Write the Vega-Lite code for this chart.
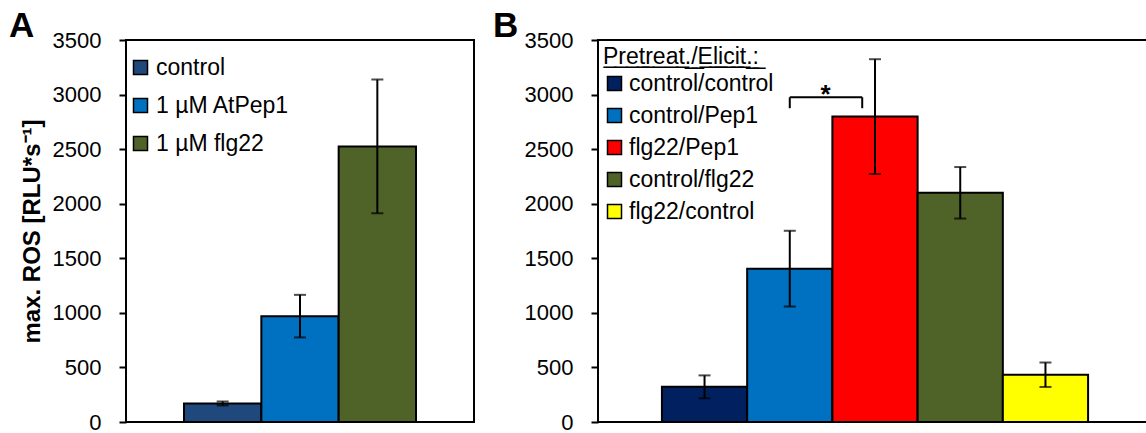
{
  "$schema": "https://vega.github.io/schema/vega-lite/v6.json",
  "padding": {"left": 8, "top": 8, "right": 0, "bottom": 0},
  "background": "white",
  "config": {
    "font": "Liberation Sans",
    "view": {"stroke": "black", "strokeWidth": 2},
    "axis": {
      "labelFont": "Liberation Sans",
      "labelFontSize": 22,
      "labelColor": "black",
      "tickColor": "black",
      "tickWidth": 2,
      "tickSize": 7,
      "labelPadding": 18,
      "domain": false,
      "grid": false,
      "format": "d",
      "titleFont": "Liberation Sans",
      "titleColor": "black",
      "titleFontSize": 24,
      "titleFontWeight": "bold",
      "titlePadding": 8
    },
    "legend": {
      "labelFont": "Liberation Sans",
      "labelFontSize": 23,
      "labelColor": "black",
      "symbolType": "square",
      "symbolSize": 196,
      "symbolStrokeColor": "black",
      "symbolStrokeWidth": 1.5,
      "symbolOpacity": 1,
      "padding": 0
    },
    "title": {"font": "Liberation Sans", "color": "black", "fontSize": 35, "fontWeight": "bold", "anchor": "start", "frame": "group", "dy": 19}
  },
  "bounds": "flush",
  "spacing": 124,
  "resolve": {
    "scale": {"x": "independent", "y": "independent", "color": "independent"},
    "legend": {"color": "independent"}
  },
  "hconcat": [
    {
      "width": 348,
      "height": 382,
      "title": {"text": "A", "dx": -117},
      "data": {
        "values": [
          {"treatment": "control", "ros": 170, "err": 18},
          {"treatment": "1 µM AtPep1", "ros": 970, "err": 195},
          {"treatment": "1 µM flg22", "ros": 2525, "err": 612}
        ]
      },
      "encoding": {
        "x": {
          "field": "treatment",
          "type": "nominal",
          "axis": null,
          "scale": {"domain": ["control", "1 µM AtPep1", "1 µM flg22"], "paddingInner": 0, "paddingOuter": 0.75}
        },
        "y": {
          "field": "ros",
          "type": "quantitative",
          "scale": {"domain": [0, 3500], "nice": false},
          "axis": {"title": "max. ROS [RLU*s⁻¹]", "values": [0, 500, 1000, 1500, 2000, 2500, 3000, 3500]}
        }
      },
      "layer": [
        {
          "mark": {"type": "bar", "stroke": "black", "strokeWidth": 2},
          "encoding": {
            "color": {
              "field": "treatment",
              "type": "nominal",
              "scale": {"domain": ["control", "1 µM AtPep1", "1 µM flg22"], "range": ["#1F497D", "#0070C0", "#4F6228"]},
              "legend": {"orient": "none", "legendX": 3, "legendY": 16, "title": null, "rowPadding": 14, "labelOffset": 4}
            }
          }
        },
        {
          "mark": {
            "type": "errorbar",
            "ticks": {"size": 12, "thickness": 2, "color": "black"},
            "rule": {"strokeWidth": 2, "color": "black"}
          },
          "encoding": {"yError": {"field": "err"}}
        }
      ]
    },
    {
      "width": 554,
      "height": 382,
      "title": {"text": "B", "dx": -105},
      "layer": [
        {
          "data": {
            "values": [
              {"group": "control/control", "ros": 322, "err": 105},
              {"group": "control/Pep1", "ros": 1405, "err": 347},
              {"group": "flg22/Pep1", "ros": 2798, "err": 526},
              {"group": "control/flg22", "ros": 2100, "err": 236},
              {"group": "flg22/control", "ros": 433, "err": 112}
            ]
          },
          "encoding": {
            "x": {
              "field": "group",
              "type": "nominal",
              "axis": null,
              "scale": {"domain": ["control/control", "control/Pep1", "flg22/Pep1", "control/flg22", "flg22/control"], "paddingInner": 0, "paddingOuter": 0.75}
            },
            "y": {
              "field": "ros",
              "type": "quantitative",
              "scale": {"domain": [0, 3500], "nice": false},
              "axis": {"title": null, "values": [0, 500, 1000, 1500, 2000, 2500, 3000, 3500]}
            }
          },
          "layer": [
            {
              "mark": {"type": "bar", "stroke": "black", "strokeWidth": 2},
              "encoding": {
                "color": {
                  "field": "group",
                  "type": "nominal",
                  "scale": {
                    "domain": ["control/control", "control/Pep1", "flg22/Pep1", "control/flg22", "flg22/control"],
                    "range": ["#002060", "#0070C0", "#FF0000", "#4F6228", "#FFFF00"]
                  },
                  "legend": {
                    "orient": "none",
                    "legendX": 5,
                    "legendY": 6,
                    "title": "P̲r̲e̲t̲r̲e̲a̲t̲.̲/̲E̲l̲i̲c̲i̲t̲.̲:̲",
                    "titleFont": "Liberation Sans",
                    "titleFontSize": 23,
                    "titleFontWeight": "normal",
                    "titleColor": "black",
                    "titlePadding": 3,
                    "rowPadding": 8,
                    "labelOffset": 3
                  }
                }
              }
            },
            {
              "mark": {
                "type": "errorbar",
                "ticks": {"size": 12, "thickness": 2, "color": "black"},
                "rule": {"strokeWidth": 2, "color": "black"}
              },
              "encoding": {"yError": {"field": "err"}}
            }
          ]
        },
        {
          "data": {
            "values": [
              {"from": "control/Pep1", "to": "flg22/Pep1", "top": 2975, "bottom": 2875, "label": "*"}
            ]
          },
          "layer": [
            {
              "mark": {"type": "rule", "color": "black", "strokeWidth": 2},
              "encoding": {
                "x": {"field": "from", "type": "nominal", "bandPosition": 0.5, "axis": null},
                "x2": {"field": "to", "bandPosition": 0.35},
                "y": {"field": "top", "type": "quantitative"}
              }
            },
            {
              "mark": {"type": "rule", "color": "black", "strokeWidth": 2},
              "encoding": {
                "x": {"field": "from", "type": "nominal", "bandPosition": 0.5, "axis": null},
                "y": {"field": "top", "type": "quantitative"},
                "y2": {"field": "bottom"}
              }
            },
            {
              "mark": {"type": "rule", "color": "black", "strokeWidth": 2},
              "encoding": {
                "x": {"field": "to", "type": "nominal", "bandPosition": 0.35, "axis": null},
                "y": {"field": "top", "type": "quantitative"},
                "y2": {"field": "bottom"}
              }
            },
            {
              "mark": {"type": "text", "fontSize": 26, "fontWeight": "bold", "baseline": "alphabetic", "dy": 6, "color": "black", "font": "Liberation Sans"},
              "encoding": {
                "x": {"field": "from", "type": "nominal", "bandPosition": 0.92, "axis": null},
                "y": {"field": "top", "type": "quantitative"},
                "text": {"field": "label"}
              }
            }
          ]
        }
      ]
    }
  ]
}
